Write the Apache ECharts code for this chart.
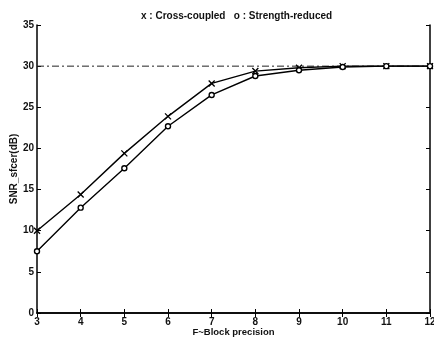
<!DOCTYPE html>
<html>
<head>
<meta charset="utf-8">
<script src="https://cdn.jsdelivr.net/npm/echarts@6/dist/echarts.min.js"></script>
<style>
  html, body { margin: 0; padding: 0; background: #fff; }
  #chart { width: 434px; height: 340px; }
</style>
</head>
<body>
<div id="chart"></div>
<script>
// F-Block precision
var precision = [3, 4, 5, 6, 7, 8, 9, 10, 11, 12];
// SNR after, dB
var crossCoupled = [10, 14.4, 19.4, 23.9, 27.9, 29.4, 29.8, 30, 30, 30];
var strengthReduced = [7.5, 12.8, 17.6, 22.7, 26.5, 28.8, 29.5, 29.9, 30, 30];
var refLevel = 30;

var pairs = function (ys) {
    return precision.map(function (x, i) { return [x, ys[i]]; });
};

var myChart = echarts.init(document.getElementById('chart'));
var txt = { color: '#111', fontFamily: 'Liberation Sans', fontSize: 10, fontWeight: 'bold' };
var axisLine = { show: true, lineStyle: { color: '#000', width: 1.5 } };
var tick = { show: true, inside: true, length: 4, lineStyle: { color: '#000' } };

myChart.setOption({
    animation: false,
    title: {
        text: 'x : Cross-coupled   o : Strength-reduced',
        left: 136, top: 6,
        textStyle: Object.assign({}, txt, { fontSize: 10 })
    },
    grid: { left: 37, right: 4, top: 25, bottom: 27, outerBoundsMode: 'none', containLabel: false },
    xAxis: [{
        type: 'value', min: 3, max: 12, interval: 1,
        name: 'F~Block precision', nameLocation: 'middle', nameGap: 14, nameMoveOverlap: false,
        nameTextStyle: Object.assign({}, txt, { fontSize: 9.5, verticalAlign: 'top' }),
        axisLine: axisLine, axisTick: tick, splitLine: { show: false },
        axisLabel: Object.assign({ margin: 4 }, txt)
    }, {
        type: 'value', min: 3, max: 12, interval: 1, position: 'top',
        axisLine: axisLine, axisTick: tick, splitLine: { show: false },
        axisLabel: { show: false }
    }],
    yAxis: [{
        type: 'value', min: 0, max: 35, interval: 5,
        name: 'SNR_sfcer(dB)', nameLocation: 'middle', nameGap: 18, nameMoveOverlap: false,
        nameTextStyle: txt,
        axisLine: axisLine, axisTick: tick, splitLine: { show: false },
        axisLabel: Object.assign({ margin: 3 }, txt)
    }, {
        type: 'value', min: 0, max: 35, interval: 5, position: 'right',
        axisLine: axisLine, axisTick: tick, splitLine: { show: false },
        axisLabel: { show: false }
    }],
    series: [{
        name: 'ref', type: 'line', silent: true, symbol: 'none',
        data: [[precision[0], refLevel], [precision[precision.length - 1], refLevel]],
        lineStyle: { color: '#222', width: 1, type: [7, 3, 2, 3] }
    }, {
        name: 'Cross-coupled', type: 'line',
        data: pairs(crossCoupled),
        symbol: 'path://M0,0L10,10M10,0L0,10', symbolSize: 6,
        itemStyle: { color: 'none', borderColor: '#000', borderWidth: 1.3 },
        lineStyle: { color: '#000', width: 1.4 }
    }, {
        name: 'Strength-reduced', type: 'line',
        data: pairs(strengthReduced),
        symbol: 'circle', symbolSize: 5,
        itemStyle: { color: '#fff', borderColor: '#000', borderWidth: 1.4 },
        lineStyle: { color: '#000', width: 1.4 }
    }]
});
</script>
</body>
</html>
